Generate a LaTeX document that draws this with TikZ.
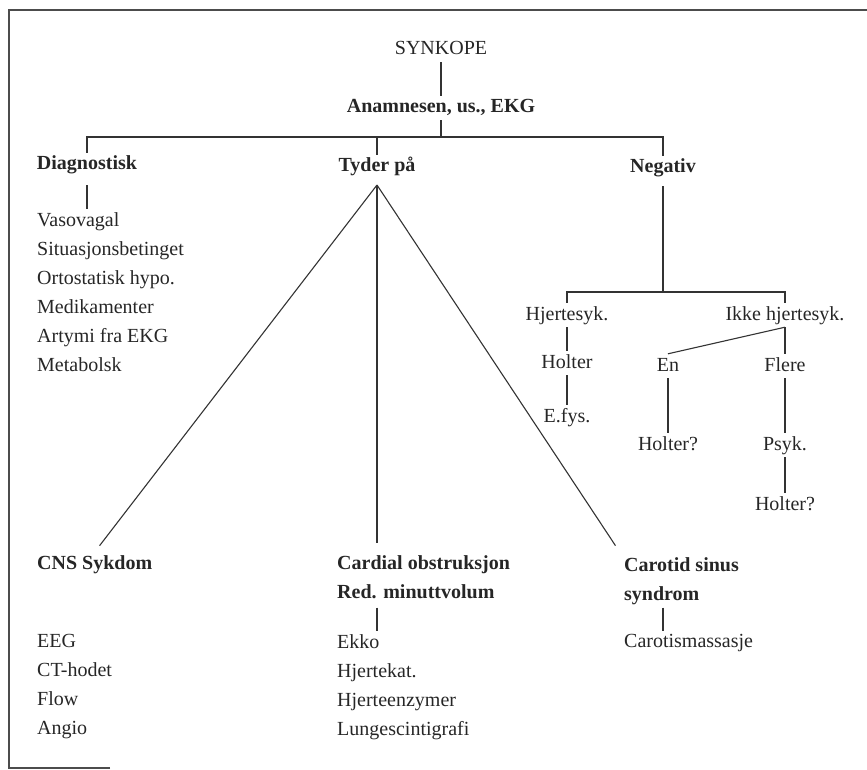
\documentclass[tikz,border=0pt]{standalone}
\usepackage{fontspec}
\setmainfont{Liberation Serif}
\tikzstyle{punkt} = [text=black!85, font=\fontsize{20}{29}\selectfont, text height=14pt, text depth=4pt, inner sep=3pt]
\tikzstyle{overskrift} = [punkt, font=\fontsize{20}{29}\selectfont\bfseries]
\tikzstyle{liste} = [text=black!85, font=\fontsize{20}{29}\selectfont, align=left, inner sep=3pt, anchor=north west]
\tikzstyle{listeoverskrift} = [liste, font=\fontsize{20}{29}\selectfont\bfseries]
\tikzstyle{connector} = [draw, black!80, line width=1.1pt]
\tikzstyle{ramme} = [draw, black!70, line width=1.6pt]

\begin{document}
\begin{tikzpicture}[x=1pt, y=-1pt]
\useasboundingbox (0,0) rectangle (867,770);

%---------------------------------------------
%Ramme
%---------------------------------------------
\draw [ramme] (110,768) -- (9,768) -- (9,10) -- (867,10);

%---------------------------------------------
%Toppen av treet
%---------------------------------------------
\node [punkt] (synkope) at (441,50) {SYNKOPE};
\node [overskrift] (anamnese) at (441,108) {Anamnesen, us., EKG};

\node [overskrift] (diagnostisk) at (87,165) {Diagnostisk};
\node [overskrift] (tyder) at (377,167) {Tyder på};
\node [overskrift] (negativ) at (663,168) {Negativ};

\node [liste] (diagliste) at (34,209) {Vasovagal\\Situasjonsbetinget\\Ortostatisk hypo.\\Medikamenter\\Artymi fra EKG\\Metabolsk};

%---------------------------------------------
%Negativ-grenen
%---------------------------------------------
\node [punkt] (hjertesyk) at (567,315) {Hjertesyk.};
\node [punkt] (holter) at (567,363) {Holter};
\node [punkt] (efys) at (567,417) {E.fys.};

\node [punkt] (ikkehjerte) at (785,315) {Ikke hjertesyk.};
\node [punkt] (en) at (668,366) {En};
\node [punkt] (flere) at (785,366) {Flere};
\node [punkt] (holterEn) at (668,445) {Holter?};
\node [punkt] (psyk) at (785,445) {Psyk.};
\node [punkt] (holterFlere) at (785,505) {Holter?};

%---------------------------------------------
%Tyder på-grenen, nederst
%---------------------------------------------
\node [listeoverskrift] (cns) at (34,552) {CNS Sykdom};
\node [listeoverskrift] (cardial) at (334,552) {Cardial obstruksjon\\Red. minuttvolum};
\node [listeoverskrift] (carotid) at (621,554) {Carotid sinus\\syndrom};

\node [liste] (cnsliste) at (34,631) {EEG\\CT-hodet\\Flow\\Angio};
\node [liste] (cardialliste) at (334,631) {Ekko\\Hjertekat.\\Hjerteenzymer\\Lungescintigrafi};
\node [liste] (carotisliste) at (621,631) {Carotismassasje};

%---------------------------------------------
%Forgreningspunkt
%---------------------------------------------
\coordinate (gren1) at (441,137);
\coordinate (spiss) at (377,185);
\coordinate (gren2) at (663,292);

%---------------------------------------------
%Linjer
%---------------------------------------------
\path [connector] (synkope) -- (anamnese);
\path [connector] (anamnese) -- (gren1);
\path [connector] (diagnostisk) |- (gren1) -| (negativ);
\path [connector] (tyder) -- (tyder |- gren1);
\path [connector, shorten <=8pt] (diagnostisk) -- (diagnostisk |- diagliste.north);

\path [connector, shorten <=6pt] (negativ) -- (gren2);
\path [connector] (hjertesyk) |- (gren2) -| (ikkehjerte);
\path [connector] (hjertesyk) -- (holter);
\path [connector] (holter) -- (efys);
\path [connector] (ikkehjerte.south) -- (en.north);
\path [connector] (ikkehjerte) -- (flere);
\path [connector] (en) -- (holterEn);
\path [connector] (flere) -- (psyk);
\path [connector] (psyk) -- (holterFlere);

\path [connector, shorten >=8pt] (spiss) -- (cns.north);
\path [connector, shorten >=9pt] (spiss) -- (spiss |- cardial.north);
\path [connector, shorten >=10pt] (spiss) -- (carotid.north west);

\path [connector, shorten <=6pt] (spiss |- cardial.south) -- (spiss |- cardialliste.north);
\path [connector] (negativ |- carotid.south) -- (negativ |- carotisliste.north);

\end{tikzpicture}
\end{document}
